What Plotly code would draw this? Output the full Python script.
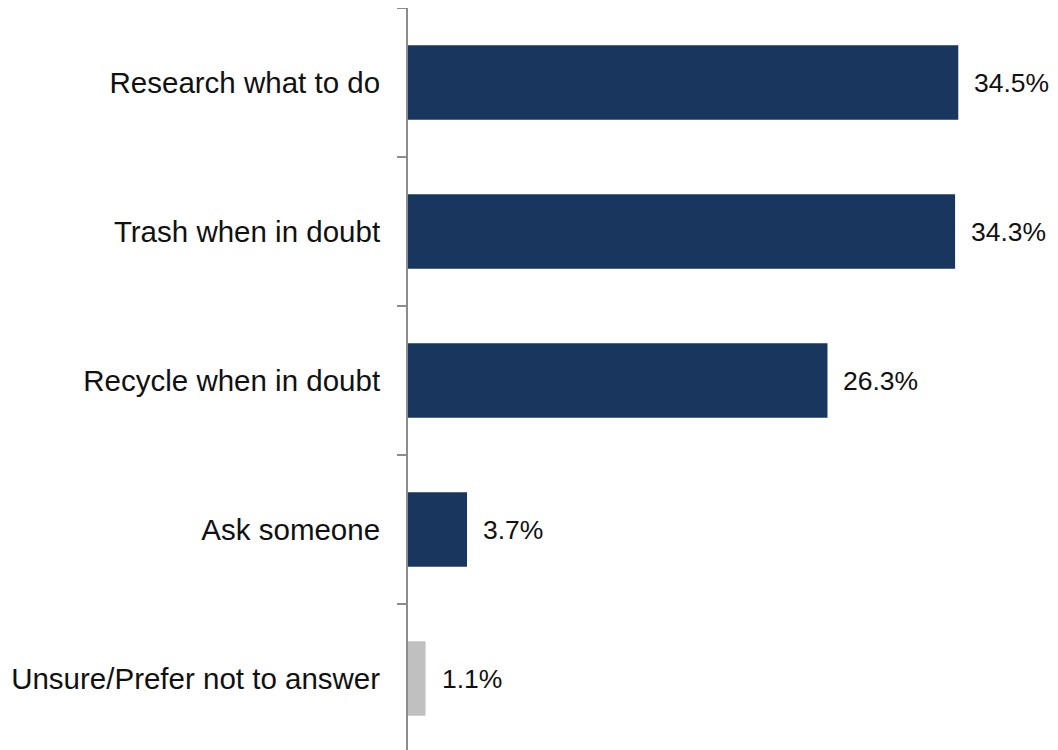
import plotly.graph_objects as go

categories = ["Research what to do", "Trash when in doubt", "Recycle when in doubt",
              "Ask someone", "Unsure/Prefer not to answer"]
values = [34.5, 34.3, 26.3, 3.7, 1.1]
colors = ["#19375e", "#19375e", "#19375e", "#19375e", "#c0c0c0"]
value_labels = ["34.5%", "34.3%", "26.3%", "3.7%", "1.1%"]

fig = go.Figure(go.Bar(
    y=categories, x=values, orientation="h",
    marker=dict(color=colors, line=dict(width=0)),
    width=0.5, hoverinfo="skip",
))

for c, v, t in zip(categories, values, value_labels):
    fig.add_annotation(x=v, y=c, text=t, showarrow=False, xanchor="left",
                       xshift=14, font=dict(size=26.5, color="#111111"))

# page body adds an 8px margin, so the figure is sized to fit the window
fig.update_layout(
    width=1050, height=745,
    margin=dict(l=400, r=12, t=0, b=0, autoexpand=False),
    paper_bgcolor="white", plot_bgcolor="white",
    font=dict(family="Liberation Sans, Arial, sans-serif", size=20, color="#111111"),
    showlegend=False,
    xaxis=dict(range=[0, 40], visible=False, showgrid=False, zeroline=False,
               automargin=False),
    yaxis=dict(
        categoryorder="array", categoryarray=categories[::-1],
        showline=True, linecolor="#8c8c8c", linewidth=2,
        ticks="outside", ticklen=9, tickcolor="#8c8c8c", tickwidth=2,
        tickson="boundaries", ticklabelstandoff=20, automargin=False,
        showgrid=False, zeroline=False,
        tickfont=dict(size=29.5, color="#111111"),
    ),
)

fig.write_html("out.html")
